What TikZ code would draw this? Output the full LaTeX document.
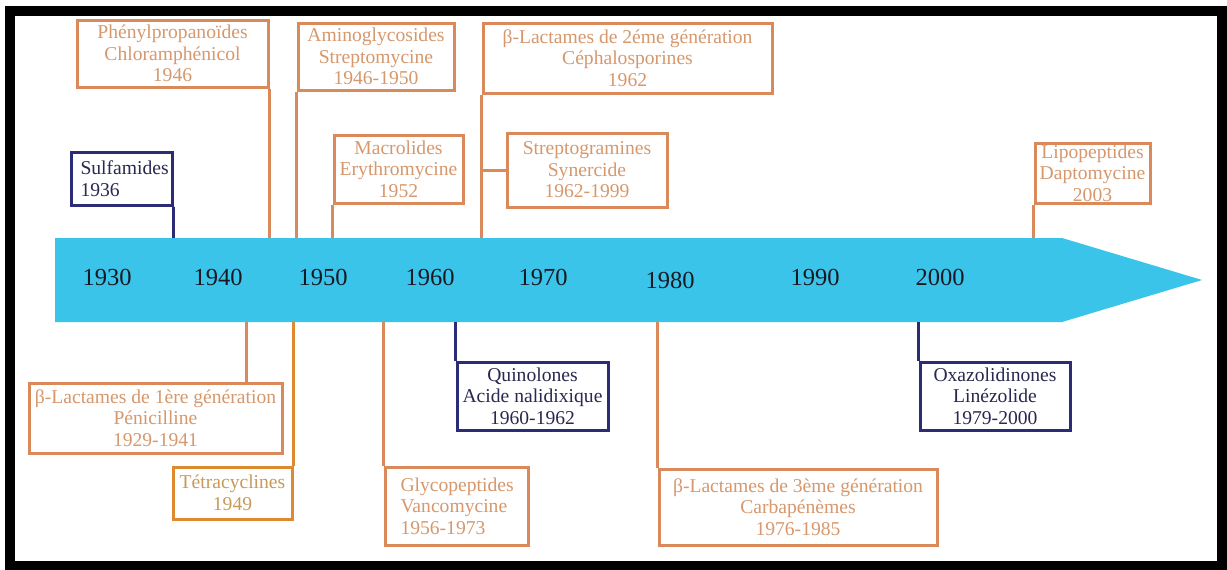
\documentclass[tikz,border=0pt]{standalone}
\usepackage{fontspec}
\setmainfont{Liberation Serif}
\definecolor{arrowblue}{RGB}{58,196,234}
\definecolor{orline}{RGB}{217,137,90}
\definecolor{ortext}{RGB}{214,152,108}
\definecolor{tetline}{RGB}{222,138,48}
\definecolor{tettext}{RGB}{200,154,88}
\definecolor{navyline}{RGB}{44,44,118}
\definecolor{navytext}{RGB}{40,40,80}
\definecolor{yeartext}{RGB}{25,25,35}
\tikzset{
  orbox/.style={draw=orline, line width=3pt, text=ortext, inner sep=0pt, align=center,
    font=\fontsize{19.6}{21.5}\selectfont},
  tetbox/.style={orbox, draw=tetline, text=tettext},
  navybox/.style={orbox, draw=navyline, text=navytext},
  orlink/.style={draw=orline, line width=3pt},
  tetlink/.style={draw=tetline, line width=3pt},
  navylink/.style={draw=navyline, line width=3pt},
  year/.style={text=yeartext, inner sep=0pt, font=\fontsize{24.5}{27}\selectfont},
}
\begin{document}
\begin{tikzpicture}[x=1pt,y=-1pt]
\useasboundingbox (0,0) rectangle (1227,570);
\fill[white] (0,0) rectangle (1227,570);
% frame
\draw[line width=9.5pt] (10,11) rectangle (1222,566);
% timeline arrow
\fill[arrowblue] (55,238) -- (1062,238) -- (1202,280) -- (1062,322) -- (55,322) -- cycle;
\coordinate (top) at (0,238);
\coordinate (bot) at (0,322);
% years
\node[year] (y1930) at (107,277) {1930};
\node[year] (y1940) at (218,277) {1940};
\node[year] (y1950) at (323,277) {1950};
\node[year] (y1960) at (430,277) {1960};
\node[year] (y1970) at (543,277) {1970};
\node[year] (y1980) at (670,280) {1980};
\node[year] (y1990) at (815,277) {1990};
\node[year] (y2000) at (940,277) {2000};
% boxes above
\node[orbox, minimum width=191pt, minimum height=67pt] (phen) at (172.5,53.5)
  {Phénylpropanoïdes\\Chloramphénicol\\1946};
\node[orbox, minimum width=156pt, minimum height=67pt] (amino) at (376,56.5)
  {Aminoglycosides\\Streptomycine\\1946-1950};
\node[orbox, minimum width=129pt, minimum height=68pt] (macro) at (398.5,169)
  {Macrolides\\Erythromycine\\1952};
\node[navybox, minimum width=101pt, minimum height=53pt, text width=82pt, align=left] (sulfa) at (121.5,178.5)
  {Sulfamides\\1936};
\node[orbox, minimum width=289pt, minimum height=70pt] (lact2) at (627.5,58)
  {β-Lactames de 2éme génération\\Céphalosporines\\1962};
\node[orbox, minimum width=160pt, minimum height=74pt] (strepto) at (587,170)
  {Streptogramines\\Synercide\\1962-1999};
\node[orbox, minimum width=115pt, minimum height=60pt] (lipo) at (1092.5,173)
  {Lipopeptides\\Daptomycine\\2003};
% boxes below
\node[orbox, minimum width=253pt, minimum height=70pt] (lact1) at (155.5,418)
  {β-Lactames de 1ère génération\\Pénicilline\\1929-1941};
\node[tetbox, minimum width=119pt, minimum height=52pt] (tetra) at (232.5,493)
  {Tétracyclines\\1949};
\node[orbox, minimum width=143pt, minimum height=78pt, text width=112pt, align=left] (glyco) at (456.5,506)
  {Glycopeptides\\Vancomycine\\1956-1973};
\node[navybox, minimum width=151pt, minimum height=68pt] (quino) at (532.5,396)
  {Quinolones\\Acide nalidixique\\1960-1962};
\node[orbox, minimum width=278pt, minimum height=76pt] (lact3) at (798,507)
  {β-Lactames de 3ème génération\\Carbapénèmes\\1976-1985};
\node[navybox, minimum width=150pt, minimum height=68pt] (oxa) at (995,396)
  {Oxazolidinones\\Linézolide\\1979-2000};
% connectors above
\draw[orlink] (phen.south east) -- (phen.south east |- top);
\draw[orlink] (amino.south west) -- (amino.south west |- top);
\draw[orlink] (macro.south west) -- (macro.south west |- top);
\draw[navylink] (sulfa.south east) -- (sulfa.south east |- top);
\draw[orlink] (lact2.south west) -- (lact2.south west |- top);
\draw[orlink] (strepto.west) -- (strepto.west -| lact2.south west);
\draw[orlink] (lipo.south west) -- (lipo.south west |- top);
% connectors below
\coordinate (l1) at ([xshift=-37pt]lact1.north east);
\draw[orlink] (l1) -- (l1 |- bot);
\draw[tetlink] (tetra.north east) -- (tetra.north east |- bot);
\draw[orlink] (glyco.north west) -- (glyco.north west |- bot);
\draw[navylink] (quino.north west) -- (quino.north west |- bot);
\draw[orlink] (lact3.north west) -- (lact3.north west |- bot);
\draw[navylink] (oxa.north west) -- (oxa.north west |- bot);
\end{tikzpicture}
\end{document}
